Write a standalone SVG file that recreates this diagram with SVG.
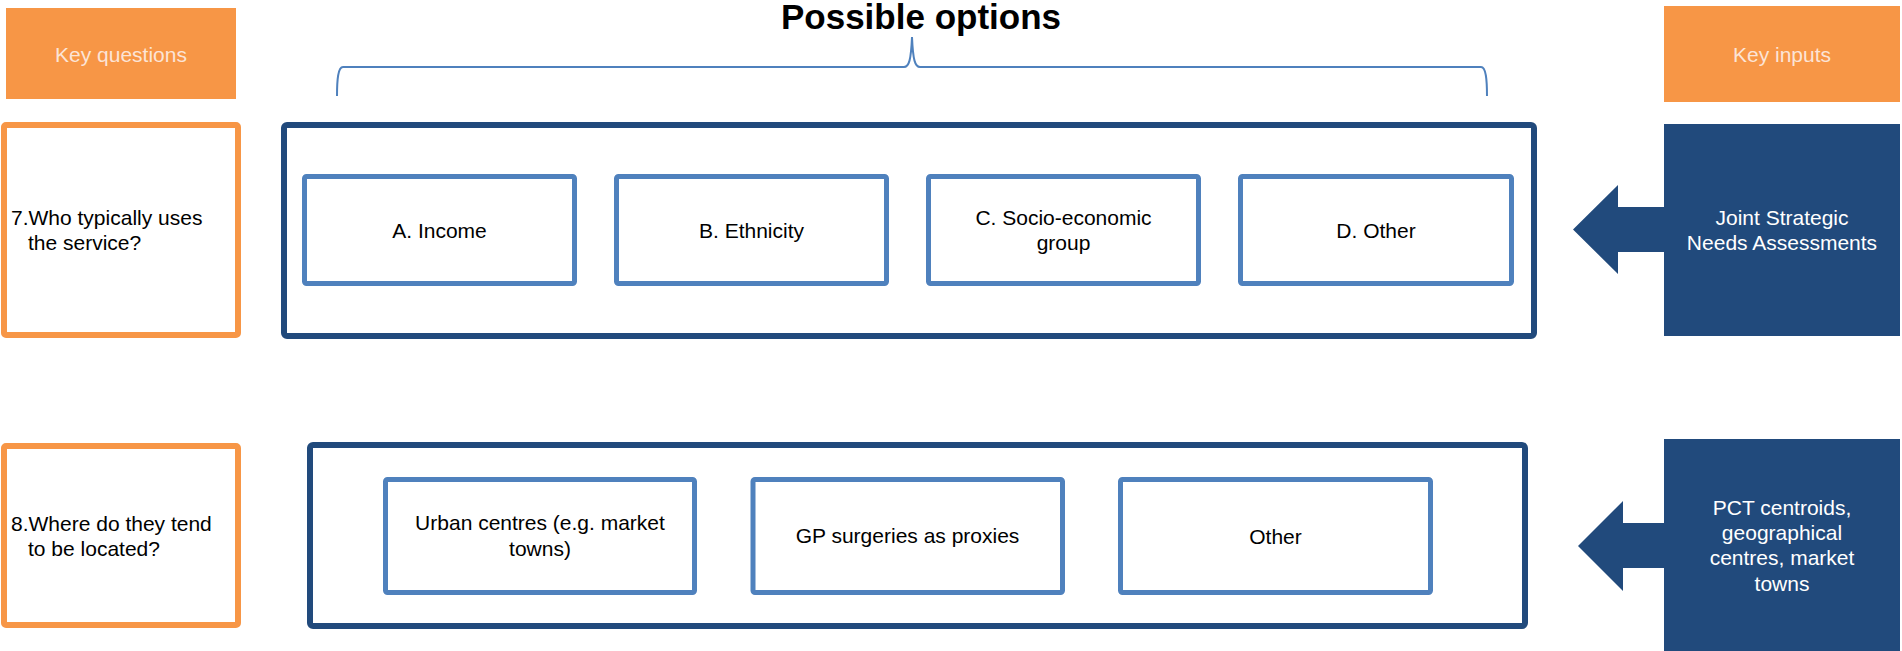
<svg xmlns="http://www.w3.org/2000/svg" width="1902" height="651" viewBox="0 0 1902 651">
  <style>
    text { font-family: "Liberation Sans", Arial, sans-serif; font-size: 21px; }
    .hdr { fill: #F79646; }
    .hdr-t { fill: #FCE4D6; text-anchor: middle; }
    .q { fill: #ffffff; stroke: #F79646; stroke-width: 6; }
    .q-t { fill: #000000; }
    .frame { fill: #ffffff; stroke: #214A7C; stroke-width: 6; }
    .opt { fill: #ffffff; stroke: #4F81BD; stroke-width: 5; }
    .opt-t { fill: #000000; text-anchor: middle; }
    .inp { fill: #214A7C; }
    .inp-t { fill: #ffffff; text-anchor: middle; }
    .title { font-size: 35px; font-weight: bold; fill: #000000; text-anchor: middle; }
    .brace { fill: none; stroke: #4F81BD; stroke-width: 2; }
  </style>

  <!-- column headers -->
  <g id="hdr-questions">
    <rect class="hdr" x="6" y="8" width="230" height="91"/>
    <text class="hdr-t" x="121" y="62">Key questions</text>
  </g>
  <g id="hdr-inputs">
    <rect class="hdr" x="1664" y="6" width="236" height="96"/>
    <text class="hdr-t" x="1782" y="62">Key inputs</text>
  </g>

  <!-- title with brace over the options -->
  <g id="title">
    <text class="title" x="921" y="29">Possible options</text>
    <path class="brace" d="M337,96 C337,80 338,67 343,67 L904,67 C909,67 911,60 912,37 C913,60 915,67 920,67 L1481,67 C1486,67 1487,80 1487,96"/>
  </g>

  <!-- row 7 -->
  <g id="q7">
    <rect class="q" x="4" y="125" width="234" height="210" rx="2"/>
    <text class="q-t" x="11" y="225">7.Who typically uses</text>
    <text class="q-t" x="28" y="250">the service?</text>
  </g>
  <g id="options7">
    <rect class="frame" x="284" y="125" width="1250" height="211" rx="3"/>
  </g>
  <g id="opt-a">
    <rect class="opt" x="304.5" y="176.5" width="270" height="107" rx="2"/>
    <text class="opt-t" x="439.5" y="238">A. Income</text>
  </g>
  <g id="opt-b">
    <rect class="opt" x="616.5" y="176.5" width="270" height="107" rx="2"/>
    <text class="opt-t" x="751.5" y="238">B. Ethnicity</text>
  </g>
  <g id="opt-c">
    <rect class="opt" x="928.5" y="176.5" width="270" height="107" rx="2"/>
    <text class="opt-t" x="1063.5" y="225">C. Socio-economic</text>
    <text class="opt-t" x="1063.5" y="250">group</text>
  </g>
  <g id="opt-d">
    <rect class="opt" x="1240.5" y="176.5" width="271" height="107" rx="2"/>
    <text class="opt-t" x="1376" y="238">D. Other</text>
  </g>
  <g id="input7">
    <rect class="inp" x="1664" y="124" width="236" height="212"/>
    <text class="inp-t" x="1782" y="225">Joint Strategic</text>
    <text class="inp-t" x="1782" y="250">Needs Assessments</text>
  </g>

  <!-- row 8 -->
  <g id="q8">
    <rect class="q" x="4" y="446" width="234" height="179" rx="2"/>
    <text class="q-t" x="11" y="531">8.Where do they tend</text>
    <text class="q-t" x="28" y="556">to be located?</text>
  </g>
  <g id="options8">
    <rect class="frame" x="310" y="445" width="1215" height="181" rx="3"/>
  </g>
  <g id="opt-urban">
    <rect class="opt" x="385.5" y="479.5" width="309" height="113" rx="2"/>
    <text class="opt-t" x="540" y="530">Urban centres (e.g. market</text>
    <text class="opt-t" x="540" y="556">towns)</text>
  </g>
  <g id="opt-gp">
    <rect class="opt" x="753" y="479.5" width="309.5" height="113" rx="2"/>
    <text class="opt-t" x="907.5" y="543">GP surgeries as proxies</text>
  </g>
  <g id="opt-other">
    <rect class="opt" x="1120.5" y="479.5" width="310" height="113" rx="2"/>
    <text class="opt-t" x="1275.5" y="544">Other</text>
  </g>
  <g id="input8">
    <rect class="inp" x="1664" y="439" width="236" height="212"/>
    <text class="inp-t" x="1782" y="515">PCT centroids,</text>
    <text class="inp-t" x="1782" y="540">geographical</text>
    <text class="inp-t" x="1782" y="565">centres, market</text>
    <text class="inp-t" x="1782" y="591">towns</text>
  </g>

  <!-- block arrows from inputs to options -->
  <g id="connectors">
    <polygon class="inp" points="1665,207 1618,207 1618,185 1573,229.5 1618,274 1618,252 1665,252"/>
    <polygon class="inp" points="1665,523 1623,523 1623,501 1578,546 1623,591 1623,568 1665,568"/>
  </g>
</svg>
